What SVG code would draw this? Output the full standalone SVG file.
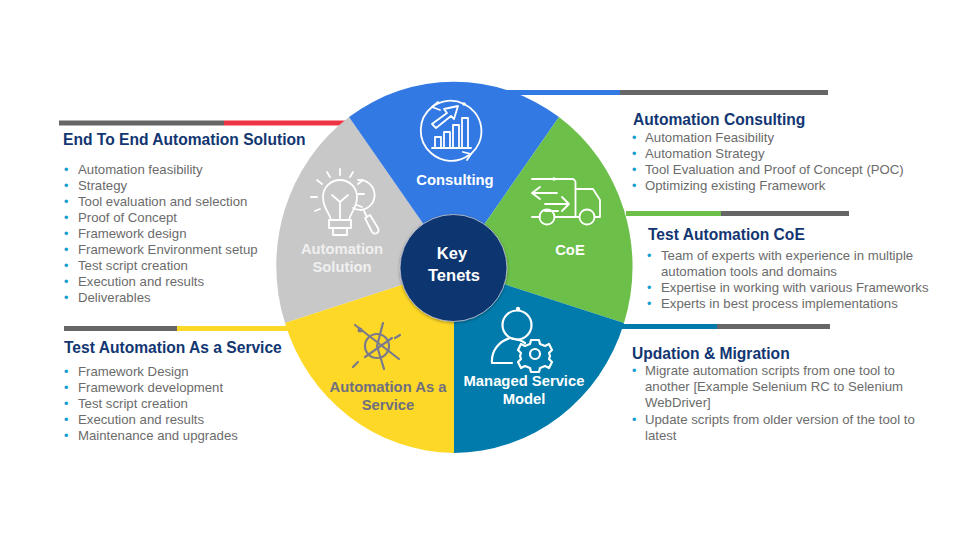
<svg xmlns="http://www.w3.org/2000/svg" width="960" height="540" viewBox="0 0 960 540">
<defs>
<filter id="sh" x="-20%" y="-20%" width="140%" height="140%"><feDropShadow dx="0" dy="1" stdDeviation="1.5" flood-color="#000" flood-opacity="0.35"/></filter>
</defs>
<style>
text{font-family:"Liberation Sans",Arial,sans-serif}
.h{font-size:15.6px;font-weight:700;fill:#123672}
.b{font-size:13.2px;fill:#6b6b6b}
.d{font-size:12.5px;fill:#0f9ed5}
.l{font-size:14.8px;font-weight:700;text-anchor:middle}
.w{fill:#fff}
.i{fill:none;stroke:#fff;stroke-width:1.8;stroke-linecap:round;stroke-linejoin:round}
.y{fill:none;stroke:#7a7a8c;stroke-width:2.2;stroke-linecap:round}
</style>
<rect width="960" height="540" fill="#fff"/>
<g id="connectors">
<rect x="59" y="120.500" width="165" height="5" fill="#666"/><rect x="224" y="120.500" width="122" height="5" fill="#ee3342"/>
<rect x="505" y="90" width="115" height="5" fill="#3279e4"/><rect x="620" y="90" width="208" height="5" fill="#666"/>
<rect x="626" y="211" width="95" height="5" fill="#6cc04a"/><rect x="721" y="211" width="128" height="5" fill="#666"/>
<rect x="622" y="324" width="95" height="5" fill="#007bab"/><rect x="717" y="324" width="113" height="5" fill="#666"/>
<rect x="64" y="326" width="113" height="5" fill="#666"/><rect x="177" y="326" width="111" height="5" fill="#fdd826"/>
</g>
<g id="wedge-automation-solution">
<path d="M454 268L285 323A179 185 0 0 1 349 117Z" fill="#c8c8c8"/>
<g class="i">
<path d="M331 220c-1-7-8-11-8-23a17 17 0 0 1 34 0c0 12-7 16-8 23"/>
<path d="M340 220v-18M340 202l-8-7M340 202l8-7"/>
<path d="M329 220h22v8h-22zM333 228v7h14v-7"/>
<path d="M340 175v-6M330 177l-3-5M322 184l-5-4M317 197h-6M320 209l-5 2M350 177l3-5M358 184l5-4"/>
<path d="M358 180a15 15 0 0 1 3 30c-3 0-6-1-8-2M358 194h6M357 205l5 2"/>
<path d="M364 211l3 6M365 218l5-3 8 13a3.500 3.500 0 0 1-6 4z"/>
</g>
<text class="l" x="342" y="254" fill="#f0f0f0">Automation</text>
<text class="l" x="342" y="272" fill="#f0f0f0">Solution</text>
</g>
<g id="wedge-consulting">
<path d="M454 268L349 117A179 185 0 0 1 559 117Z" fill="#3279e4"/>
<g class="i">
<path d="M432 107A30 30 0 0 1 464 104A30 30 0 0 1 471 154M469 155A30 30 0 0 1 431 153A30 30 0 0 1 432 107"/>
<path d="M438 102l-6 5 8 3M463 152l8 2-4 6"/>
<path d="M432 148h39M435 148v-11h6v11M444 148v-16h6v16M453 148v-23h6v23M462 148v-30h6v30"/>
<path d="M432 124l15-11-3-4 14-3-4 13-3-3-15 12z"/>
</g>
<circle cx="464" cy="104" r="1.800" fill="#fff"/>
<text class="l w" x="455" y="185">Consulting</text>
</g>
<g id="wedge-coe">
<path d="M454 268L559 117A179 185 0 0 1 624 323Z" fill="#6cc04a"/>
<g class="i">
<path d="M532 179h40a3.500 3.500 0 0 1 3.500 3.500v34.500M555 217h24M532 217h8"/>
<path d="M575.500 189h17.500l7 11v17h-5"/>
<path d="M557 193h-25M532 193l8-6M532 193l8 6M545 204h24M569 204l-7-7M569 204l-7 7M545 211h13"/>
<circle cx="547" cy="217" r="7.500"/><circle cx="587" cy="217" r="7.500"/>
</g>
<circle cx="554" cy="179" r="1.800" fill="#fff"/>
<text class="l w" x="570" y="255">CoE</text>
</g>
<g id="wedge-managed-service">
<path d="M454 268L624 323A179 185 0 0 1 454 453Z" fill="#007bab"/>
<g class="i" style="stroke-width:2.2">
<circle cx="517" cy="325" r="14.500"/>
<path d="M492 363c-1-12 7-22 18-25 6 1 11 2 15 5M492 363h20"/>
<circle cx="535" cy="354" r="5"/>
<path d="M531 340h8l1 4 5 2 4-2 3 6-3 3 1 3-1 3 3 3-3 6-4-2-5 2-1 4h-8l-1-4-5-2-4 2-3-6 3-3-1-3 1-3-3-3 3-6 4 2 5-2z"/>
</g>
<circle cx="518" cy="309" r="2.200" fill="#fff"/>
<text class="l w" x="524" y="386">Managed Service</text>
<text class="l w" x="524" y="404">Model</text>
</g>
<g id="wedge-automation-service">
<path d="M454 268L454 453A179 185 0 0 1 285 323Z" fill="#fdd826"/>
<g class="y">
<circle cx="377" cy="346" r="12"/>
<path d="M383 323l-6 23 7 23M355 325l44 34M365 357l27-19M395 338l5-3M353 367l5-5"/>
</g>
<circle cx="360" cy="330" r="2.500" fill="#7a7a8c"/>
<text class="l" x="388" y="392" fill="#6f6f80">Automation As a</text>
<text class="l" x="388" y="410" fill="#6f6f80">Service</text>
</g>
<g id="center-key-tenets">
<circle cx="453.500" cy="268" r="53.500" fill="#10346f" stroke="#c9ced8" stroke-width="0.800" filter="url(#sh)"/>
<text x="452" y="259" font-size="16.500" font-weight="700" fill="#fff" text-anchor="middle">Key</text>
<text x="454" y="281" font-size="16.500" font-weight="700" fill="#fff" text-anchor="middle">Tenets</text>
</g>
<g id="panel-end-to-end">
<text class="h" x="63" y="145">End To End Automation Solution</text>
<g class="d"><text x="64" y="174">•</text><text x="64" y="190">•</text><text x="64" y="206">•</text><text x="64" y="222">•</text><text x="64" y="238">•</text><text x="64" y="254">•</text><text x="64" y="270">•</text><text x="64" y="286">•</text><text x="64" y="302">•</text></g>
<g class="b"><text x="78" y="174">Automation feasibility</text><text x="78" y="190">Strategy</text><text x="78" y="206">Tool evaluation and selection</text><text x="78" y="222">Proof of Concept</text><text x="78" y="238">Framework design</text><text x="78" y="254">Framework Environment setup</text><text x="78" y="270">Test script creation</text><text x="78" y="286">Execution and results</text><text x="78" y="302">Deliverables</text></g>
</g>
<g id="panel-service">
<text class="h" x="64" y="353">Test Automation As a Service</text>
<g class="d"><text x="64" y="376">•</text><text x="64" y="392">•</text><text x="64" y="408">•</text><text x="64" y="424">•</text><text x="64" y="440">•</text></g>
<g class="b"><text x="78" y="376">Framework Design</text><text x="78" y="392">Framework development</text><text x="78" y="408">Test script creation</text><text x="78" y="424">Execution and results</text><text x="78" y="440">Maintenance and upgrades</text></g>
</g>
<g id="panel-consulting">
<text class="h" x="633" y="125">Automation Consulting</text>
<g class="d"><text x="632" y="142">•</text><text x="632" y="158">•</text><text x="632" y="174">•</text><text x="632" y="190">•</text></g>
<g class="b"><text x="645" y="142">Automation Feasibility</text><text x="645" y="158">Automation Strategy</text><text x="645" y="174">Tool Evaluation and Proof of Concept (POC)</text><text x="645" y="190">Optimizing existing Framework</text></g>
</g>
<g id="panel-coe">
<text class="h" x="648" y="240">Test Automation CoE</text>
<g class="d"><text x="647" y="260">•</text><text x="647" y="292">•</text><text x="647" y="308">•</text></g>
<g class="b"><text x="661" y="260">Team of experts with experience in multiple</text><text x="661" y="276">automation tools and domains</text><text x="661" y="292">Expertise in working with various Frameworks</text><text x="661" y="308">Experts in best process implementations</text></g>
</g>
<g id="panel-migration">
<text class="h" x="632" y="359">Updation &amp; Migration</text>
<g class="d"><text x="632" y="375">•</text><text x="632" y="424">•</text></g>
<g class="b"><text x="645" y="375">Migrate automation scripts from one tool to</text><text x="645" y="391">another [Example Selenium RC to Selenium</text><text x="645" y="407">WebDriver]</text><text x="645" y="424">Update scripts from older version of the tool to</text><text x="645" y="440">latest</text></g>
</g>
</svg>
